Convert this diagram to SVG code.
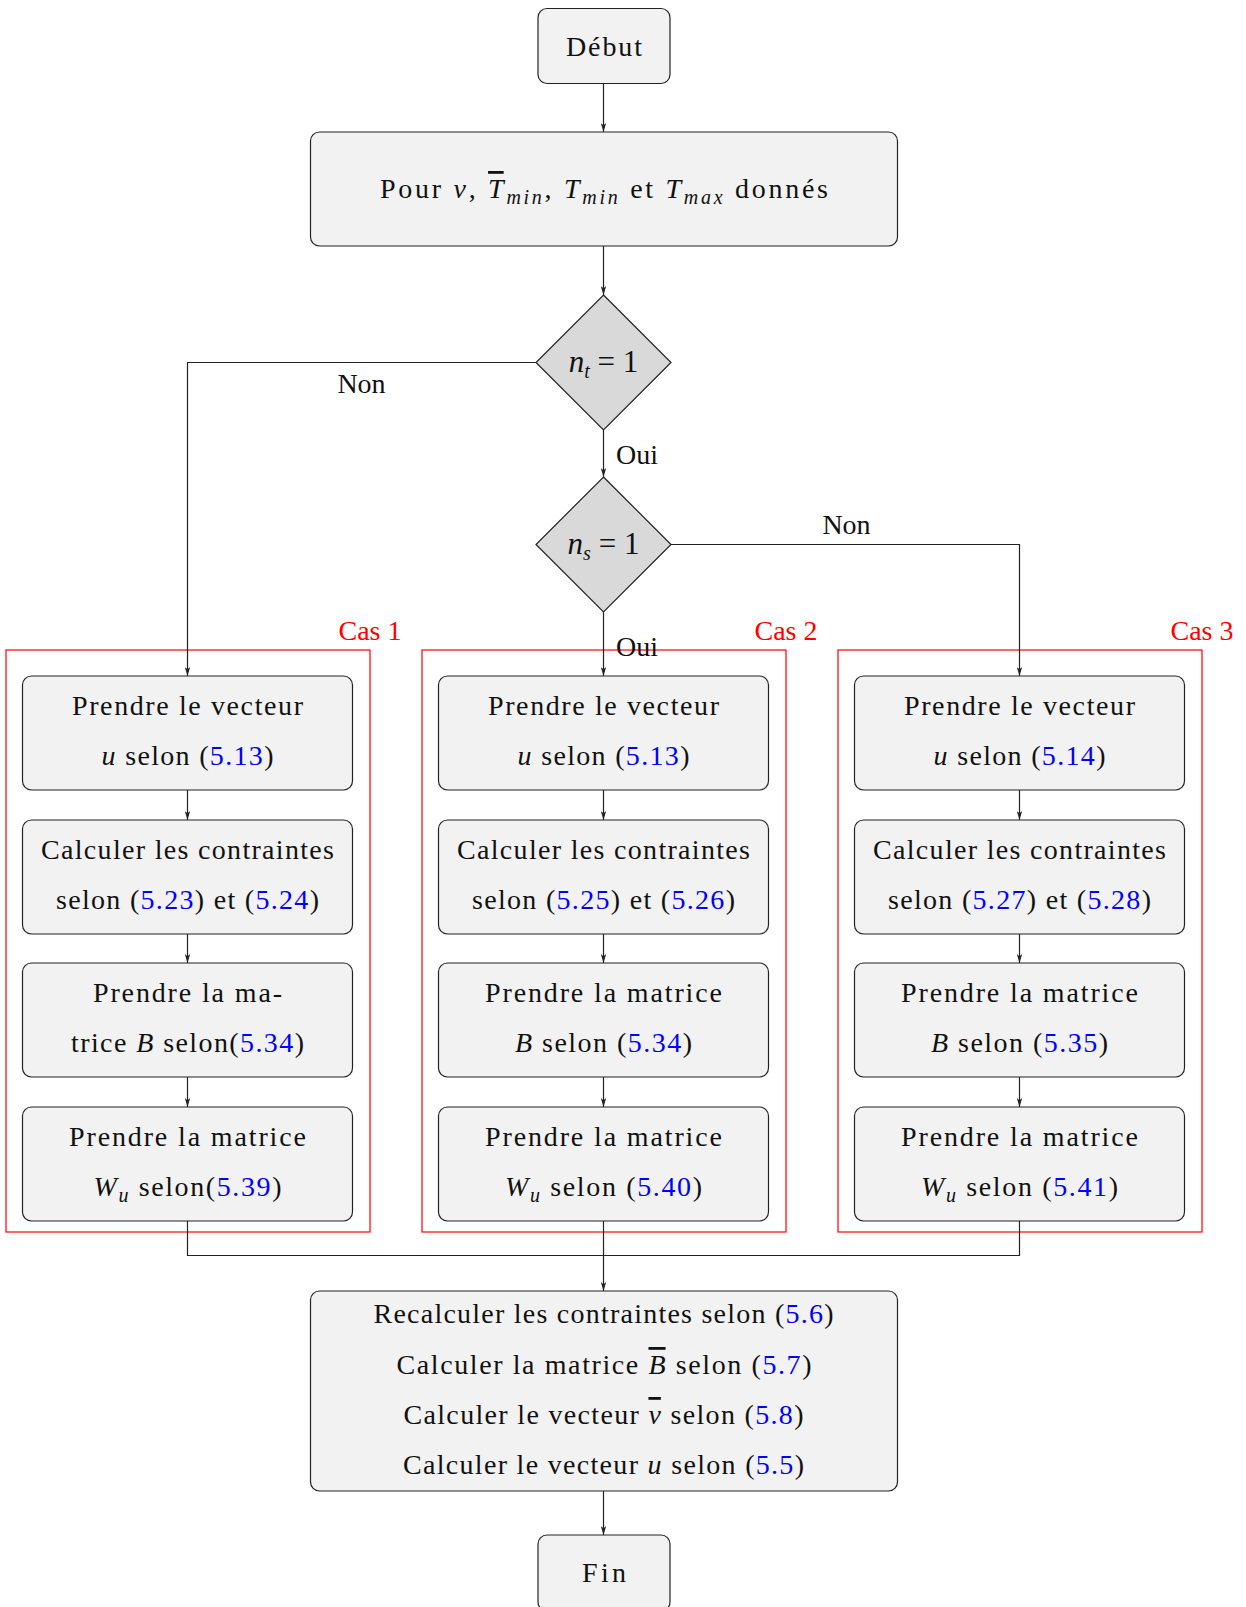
<svg xmlns="http://www.w3.org/2000/svg" width="1246" height="1607" viewBox="0 0 1246 1607">
<style>
text{font-family:"Liberation Serif","DejaVu Serif",serif;font-size:28px;fill:#111;text-anchor:middle}
.m{font-style:italic}
.sub{font-size:20px;font-style:italic}
.ref{fill:#0000ff}
.red{fill:#ff0000}
.dt{font-size:31px}
.box{fill:#f2f2f2;stroke:#222;stroke-width:1.2}
.dia{fill:#d9d9d9;stroke:#222;stroke-width:1.2}
.grp{fill:none;stroke:#ff0000;stroke-width:1.2}
.c{fill:none;stroke:#222;stroke-width:1.2}
.ov{text-decoration:overline}
</style>
<defs>
<marker id="ah" viewBox="0 0 10 6" refX="10" refY="3" markerWidth="9" markerHeight="6" markerUnits="userSpaceOnUse" orient="auto">
<path d="M0,0 L10,3 L0,6 L2.5,3 z" fill="#222"/>
</marker>
</defs>

<g id="groups">
<rect class="grp" x="6" y="650" width="364" height="582"/>
<rect class="grp" x="422" y="650" width="364" height="582"/>
<rect class="grp" x="838" y="650" width="364" height="582"/>
<text class="red" x="370" y="640">Cas 1</text>
<text class="red" x="786" y="640">Cas 2</text>
<text class="red" x="1202" y="640">Cas 3</text>
</g>

<g id="connectors">
<line class="c" x1="603.5" y1="83.5" x2="603.5" y2="132" marker-end="url(#ah)"/>
<line class="c" x1="603.5" y1="246" x2="603.5" y2="295" marker-end="url(#ah)"/>
<line class="c" x1="603.5" y1="430" x2="603.5" y2="477" marker-end="url(#ah)"/>
<line class="c" x1="603.5" y1="612" x2="603.5" y2="676" marker-end="url(#ah)"/>
<polyline class="c" points="536,362.5 187.5,362.5 187.5,676" marker-end="url(#ah)"/>
<polyline class="c" points="671,544.5 1019.5,544.5 1019.5,676" marker-end="url(#ah)"/>
<line class="c" x1="187.5" y1="790" x2="187.5" y2="820" marker-end="url(#ah)"/>
<line class="c" x1="187.5" y1="934" x2="187.5" y2="963" marker-end="url(#ah)"/>
<line class="c" x1="187.5" y1="1077" x2="187.5" y2="1107" marker-end="url(#ah)"/>
<line class="c" x1="603.5" y1="790" x2="603.5" y2="820" marker-end="url(#ah)"/>
<line class="c" x1="603.5" y1="934" x2="603.5" y2="963" marker-end="url(#ah)"/>
<line class="c" x1="603.5" y1="1077" x2="603.5" y2="1107" marker-end="url(#ah)"/>
<line class="c" x1="1019.5" y1="790" x2="1019.5" y2="820" marker-end="url(#ah)"/>
<line class="c" x1="1019.5" y1="934" x2="1019.5" y2="963" marker-end="url(#ah)"/>
<line class="c" x1="1019.5" y1="1077" x2="1019.5" y2="1107" marker-end="url(#ah)"/>
<polyline class="c" points="187.5,1221 187.5,1255.5 1019.5,1255.5 1019.5,1221"/>
<line class="c" x1="603.5" y1="1221" x2="603.5" y2="1291" marker-end="url(#ah)"/>
<line class="c" x1="603.5" y1="1491" x2="603.5" y2="1535" marker-end="url(#ah)"/>
<text x="361.5" y="393">Non</text>
<text x="637" y="464">Oui</text>
<text x="846.5" y="534">Non</text>
<text x="637" y="656">Oui</text>
</g>

<g id="debut">
<rect class="box" x="538" y="8.5" width="132" height="75" rx="9"/>
<text x="604" y="56" textLength="76" lengthAdjust="spacing">Début</text>
</g>

<g id="pour">
<rect class="box" x="310.5" y="132" width="587" height="114" rx="9"/>
<text x="604" y="198" textLength="448" lengthAdjust="spacing">Pour <tspan class="m">v</tspan>, <tspan class="m ov">T</tspan><tspan class="sub" dy="6">min</tspan><tspan dy="-6">, </tspan><tspan class="m">T</tspan><tspan class="sub" dy="6">min</tspan><tspan dy="-6"> et </tspan><tspan class="m">T</tspan><tspan class="sub" dy="6">max</tspan><tspan dy="-6"> donnés</tspan></text>
</g>

<g id="dec1">
<polygon class="dia" points="603.5,295 671,362.5 603.5,430 536,362.5"/>
<text class="dt" x="603.5" y="372"><tspan class="m">n</tspan><tspan class="sub" dy="6">t</tspan><tspan dy="-6"> = 1</tspan></text>
</g>

<g id="dec2">
<polygon class="dia" points="603.5,477 671,544.5 603.5,612 536,544.5"/>
<text class="dt" x="603.5" y="554"><tspan class="m">n</tspan><tspan class="sub" dy="6">s</tspan><tspan dy="-6"> = 1</tspan></text>
</g>

<g id="c1b1">
<rect class="box" x="22.5" y="676" width="330" height="114" rx="9"/>
<text x="187.5" y="715" textLength="231" lengthAdjust="spacing">Prendre le vecteur</text>
<text x="187.5" y="765" textLength="172" lengthAdjust="spacing"><tspan class="m">u</tspan> selon (<tspan class="ref">5.13</tspan>)</text>
</g>
<g id="c1b2">
<rect class="box" x="22.5" y="820" width="330" height="114" rx="9"/>
<text x="187.5" y="859" textLength="293" lengthAdjust="spacing">Calculer les contraintes</text>
<text x="187.5" y="909" textLength="263" lengthAdjust="spacing">selon (<tspan class="ref">5.23</tspan>) et (<tspan class="ref">5.24</tspan>)</text>
</g>
<g id="c1b3">
<rect class="box" x="22.5" y="963" width="330" height="114" rx="9"/>
<text x="187.5" y="1002" textLength="189" lengthAdjust="spacing">Prendre la ma-</text>
<text x="187.5" y="1052" textLength="233" lengthAdjust="spacing">trice <tspan class="m">B</tspan> selon(<tspan class="ref">5.34</tspan>)</text>
</g>
<g id="c1b4">
<rect class="box" x="22.5" y="1107" width="330" height="114" rx="9"/>
<text x="187.5" y="1146" textLength="237" lengthAdjust="spacing">Prendre la matrice</text>
<text x="187.5" y="1196" textLength="188" lengthAdjust="spacing"><tspan class="m">W</tspan><tspan class="sub" dy="6">u</tspan><tspan dy="-6"> selon(</tspan><tspan class="ref">5.39</tspan>)</text>
</g>

<g id="c2b1">
<rect class="box" x="438.5" y="676" width="330" height="114" rx="9"/>
<text x="603.5" y="715" textLength="231" lengthAdjust="spacing">Prendre le vecteur</text>
<text x="603.5" y="765" textLength="172" lengthAdjust="spacing"><tspan class="m">u</tspan> selon (<tspan class="ref">5.13</tspan>)</text>
</g>
<g id="c2b2">
<rect class="box" x="438.5" y="820" width="330" height="114" rx="9"/>
<text x="603.5" y="859" textLength="293" lengthAdjust="spacing">Calculer les contraintes</text>
<text x="603.5" y="909" textLength="263" lengthAdjust="spacing">selon (<tspan class="ref">5.25</tspan>) et (<tspan class="ref">5.26</tspan>)</text>
</g>
<g id="c2b3">
<rect class="box" x="438.5" y="963" width="330" height="114" rx="9"/>
<text x="603.5" y="1002" textLength="237" lengthAdjust="spacing">Prendre la matrice</text>
<text x="603.5" y="1052" textLength="177" lengthAdjust="spacing"><tspan class="m">B</tspan> selon (<tspan class="ref">5.34</tspan>)</text>
</g>
<g id="c2b4">
<rect class="box" x="438.5" y="1107" width="330" height="114" rx="9"/>
<text x="603.5" y="1146" textLength="237" lengthAdjust="spacing">Prendre la matrice</text>
<text x="603.5" y="1196" textLength="197" lengthAdjust="spacing"><tspan class="m">W</tspan><tspan class="sub" dy="6">u</tspan><tspan dy="-6"> selon (</tspan><tspan class="ref">5.40</tspan>)</text>
</g>

<g id="c3b1">
<rect class="box" x="854.5" y="676" width="330" height="114" rx="9"/>
<text x="1019.5" y="715" textLength="231" lengthAdjust="spacing">Prendre le vecteur</text>
<text x="1019.5" y="765" textLength="172" lengthAdjust="spacing"><tspan class="m">u</tspan> selon (<tspan class="ref">5.14</tspan>)</text>
</g>
<g id="c3b2">
<rect class="box" x="854.5" y="820" width="330" height="114" rx="9"/>
<text x="1019.5" y="859" textLength="293" lengthAdjust="spacing">Calculer les contraintes</text>
<text x="1019.5" y="909" textLength="263" lengthAdjust="spacing">selon (<tspan class="ref">5.27</tspan>) et (<tspan class="ref">5.28</tspan>)</text>
</g>
<g id="c3b3">
<rect class="box" x="854.5" y="963" width="330" height="114" rx="9"/>
<text x="1019.5" y="1002" textLength="237" lengthAdjust="spacing">Prendre la matrice</text>
<text x="1019.5" y="1052" textLength="177" lengthAdjust="spacing"><tspan class="m">B</tspan> selon (<tspan class="ref">5.35</tspan>)</text>
</g>
<g id="c3b4">
<rect class="box" x="854.5" y="1107" width="330" height="114" rx="9"/>
<text x="1019.5" y="1146" textLength="237" lengthAdjust="spacing">Prendre la matrice</text>
<text x="1019.5" y="1196" textLength="197" lengthAdjust="spacing"><tspan class="m">W</tspan><tspan class="sub" dy="6">u</tspan><tspan dy="-6"> selon (</tspan><tspan class="ref">5.41</tspan>)</text>
</g>

<g id="final">
<rect class="box" x="310.5" y="1291" width="587" height="200" rx="9"/>
<text x="603.5" y="1323" textLength="460" lengthAdjust="spacing">Recalculer les contraintes selon (<tspan class="ref">5.6</tspan>)</text>
<text x="604" y="1374" textLength="415" lengthAdjust="spacing">Calculer la matrice <tspan class="m ov">B</tspan> selon (<tspan class="ref">5.7</tspan>)</text>
<text x="603.5" y="1424" textLength="400" lengthAdjust="spacing">Calculer le vecteur <tspan class="m ov">v</tspan> selon (<tspan class="ref">5.8</tspan>)</text>
<text x="603.5" y="1474" textLength="401" lengthAdjust="spacing">Calculer le vecteur <tspan class="m">u</tspan> selon (<tspan class="ref">5.5</tspan>)</text>
</g>

<g id="fin">
<rect class="box" x="538" y="1535" width="132" height="76" rx="9"/>
<text x="604" y="1582" textLength="44" lengthAdjust="spacing">Fin</text>
</g>
</svg>
